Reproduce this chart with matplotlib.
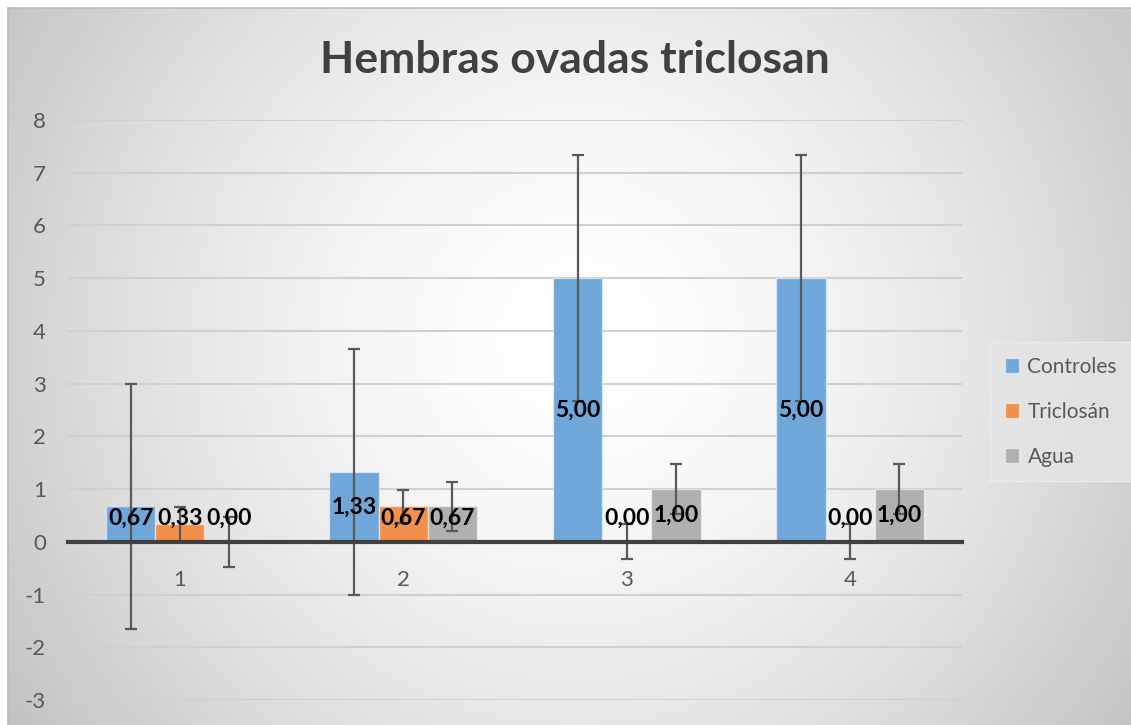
import numpy as np
import matplotlib
matplotlib.use("Agg")
import matplotlib.pyplot as plt

# ---- data ----
categories = ["1", "2", "3", "4"]
series_names = ["Controles", "Triclosán", "Agua"]
controles = [0.67, 1.33, 5.00, 5.00]
triclosan = [0.33, 0.67, 0.00, 0.00]
agua = [0.00, 0.67, 1.00, 1.00]
err_controles = [2.33, 2.33, 2.33, 2.33]
err_triclosan = [0.33, 0.31, 0.33, 0.33]
err_agua = [0.47, 0.47, 0.47, 0.47]
yticks = [-3, -2, -1, 0, 1, 2, 3, 4, 5, 6, 7, 8]
title = "Hembras ovadas triclosan"

colors = ["#70A7DB", "#F0904C", "#B0B0B0"]
plt.rcParams['font.family'] = ['Lato', 'DejaVu Sans']

W, H = 1131, 725
fig = plt.figure(figsize=(W / 100, H / 100), dpi=100)
fig.patch.set_facecolor("white")

# background radial gradient (chart area starts at x=8, y=8)
bg = fig.add_axes([8 / W, 0, 1 - 8 / W, 1 - 8 / H], zorder=0)
yy, xx = np.mgrid[0:H - 8, 0:W - 8]
cx, cy = 570, 330
r = np.sqrt((xx - cx) ** 2 + (yy - cy) ** 2)
r = r / r.max()
val = 1.0 - 0.24 * r ** 1.6
bg.imshow(np.dstack([val, val, val]), aspect="auto", extent=[0, 1, 0, 1], origin="upper")
bg.axis("off")
# border lines top / left
fig.add_artist(plt.Line2D([8 / W, 1], [1 - 8 / H, 1 - 8 / H], color="#bdbdbd", lw=1.2))
fig.add_artist(plt.Line2D([8 / W, 8 / W], [0, 1 - 8 / H], color="#bdbdbd", lw=1.2))

ax = fig.add_axes([68 / W, 25 / H, (962 - 68) / W, (700 - 120) / H], zorder=1)
ax.patch.set_alpha(0)

x = np.arange(len(categories))
bw = 0.22
data = [controles, triclosan, agua]
errs = [err_controles, err_triclosan, err_agua]
for i, (vals, e, c, name) in enumerate(zip(data, errs, colors, series_names)):
    pos = x + (i - 1) * bw
    ax.bar(pos, vals, width=bw, color=c, edgecolor=(1, 1, 1, 0.5), linewidth=1.0,
           label=name, zorder=2)
    ax.errorbar(pos, vals, yerr=e, fmt="none", ecolor="#595959", elinewidth=1.6,
                capsize=4, capthick=1.6, zorder=3)
    for p, v in zip(pos, vals):
        ax.text(p, max(v / 2, 0.45), f"{v:.2f}".replace(".", ","), ha="center",
                va="center", fontsize=16.5, fontweight="bold", color="black", zorder=4)

ax.set_xlim(-0.5, len(categories) - 0.5)
ax.set_ylim(-3, 8)
ax.set_yticks(yticks)
ax.set_yticklabels([str(t) for t in yticks])
ax.grid(axis="y", color="#d0d0d0", linewidth=1.5, zorder=0)
ax.set_axisbelow(True)
for s in ["top", "right", "left"]:
    ax.spines[s].set_visible(False)
ax.spines["bottom"].set_position(("data", 0))
ax.spines["bottom"].set_color("#404040")
ax.spines["bottom"].set_linewidth(3)
ax.spines["bottom"].set_zorder(5)
ax.set_xticks(x)
ax.set_xticklabels(categories)
ax.tick_params(axis="x", length=0, pad=20, labelsize=16, labelcolor="#595959")
ax.tick_params(axis="y", length=0, pad=16, labelsize=16, labelcolor="#595959")

fig.text(575 / W, 1 - 60 / H, title, ha="center", va="center", fontsize=32,
         fontweight="bold", color="#404040")

leg = ax.legend(loc="upper left", bbox_to_anchor=(990 / W, 1 - 342 / H),
                bbox_transform=fig.transFigure, borderaxespad=0, frameon=True,
                fontsize=15, handlelength=0.7, handleheight=0.7, handletextpad=0.4,
                labelspacing=1.2, borderpad=0.7, fancybox=False, labelcolor="#595959")
leg.get_frame().set_facecolor("#e4e4e4")
leg.get_frame().set_edgecolor("#eeeeee")
leg.get_frame().set_alpha(0.8)

fig.savefig("out.png", dpi=100)
